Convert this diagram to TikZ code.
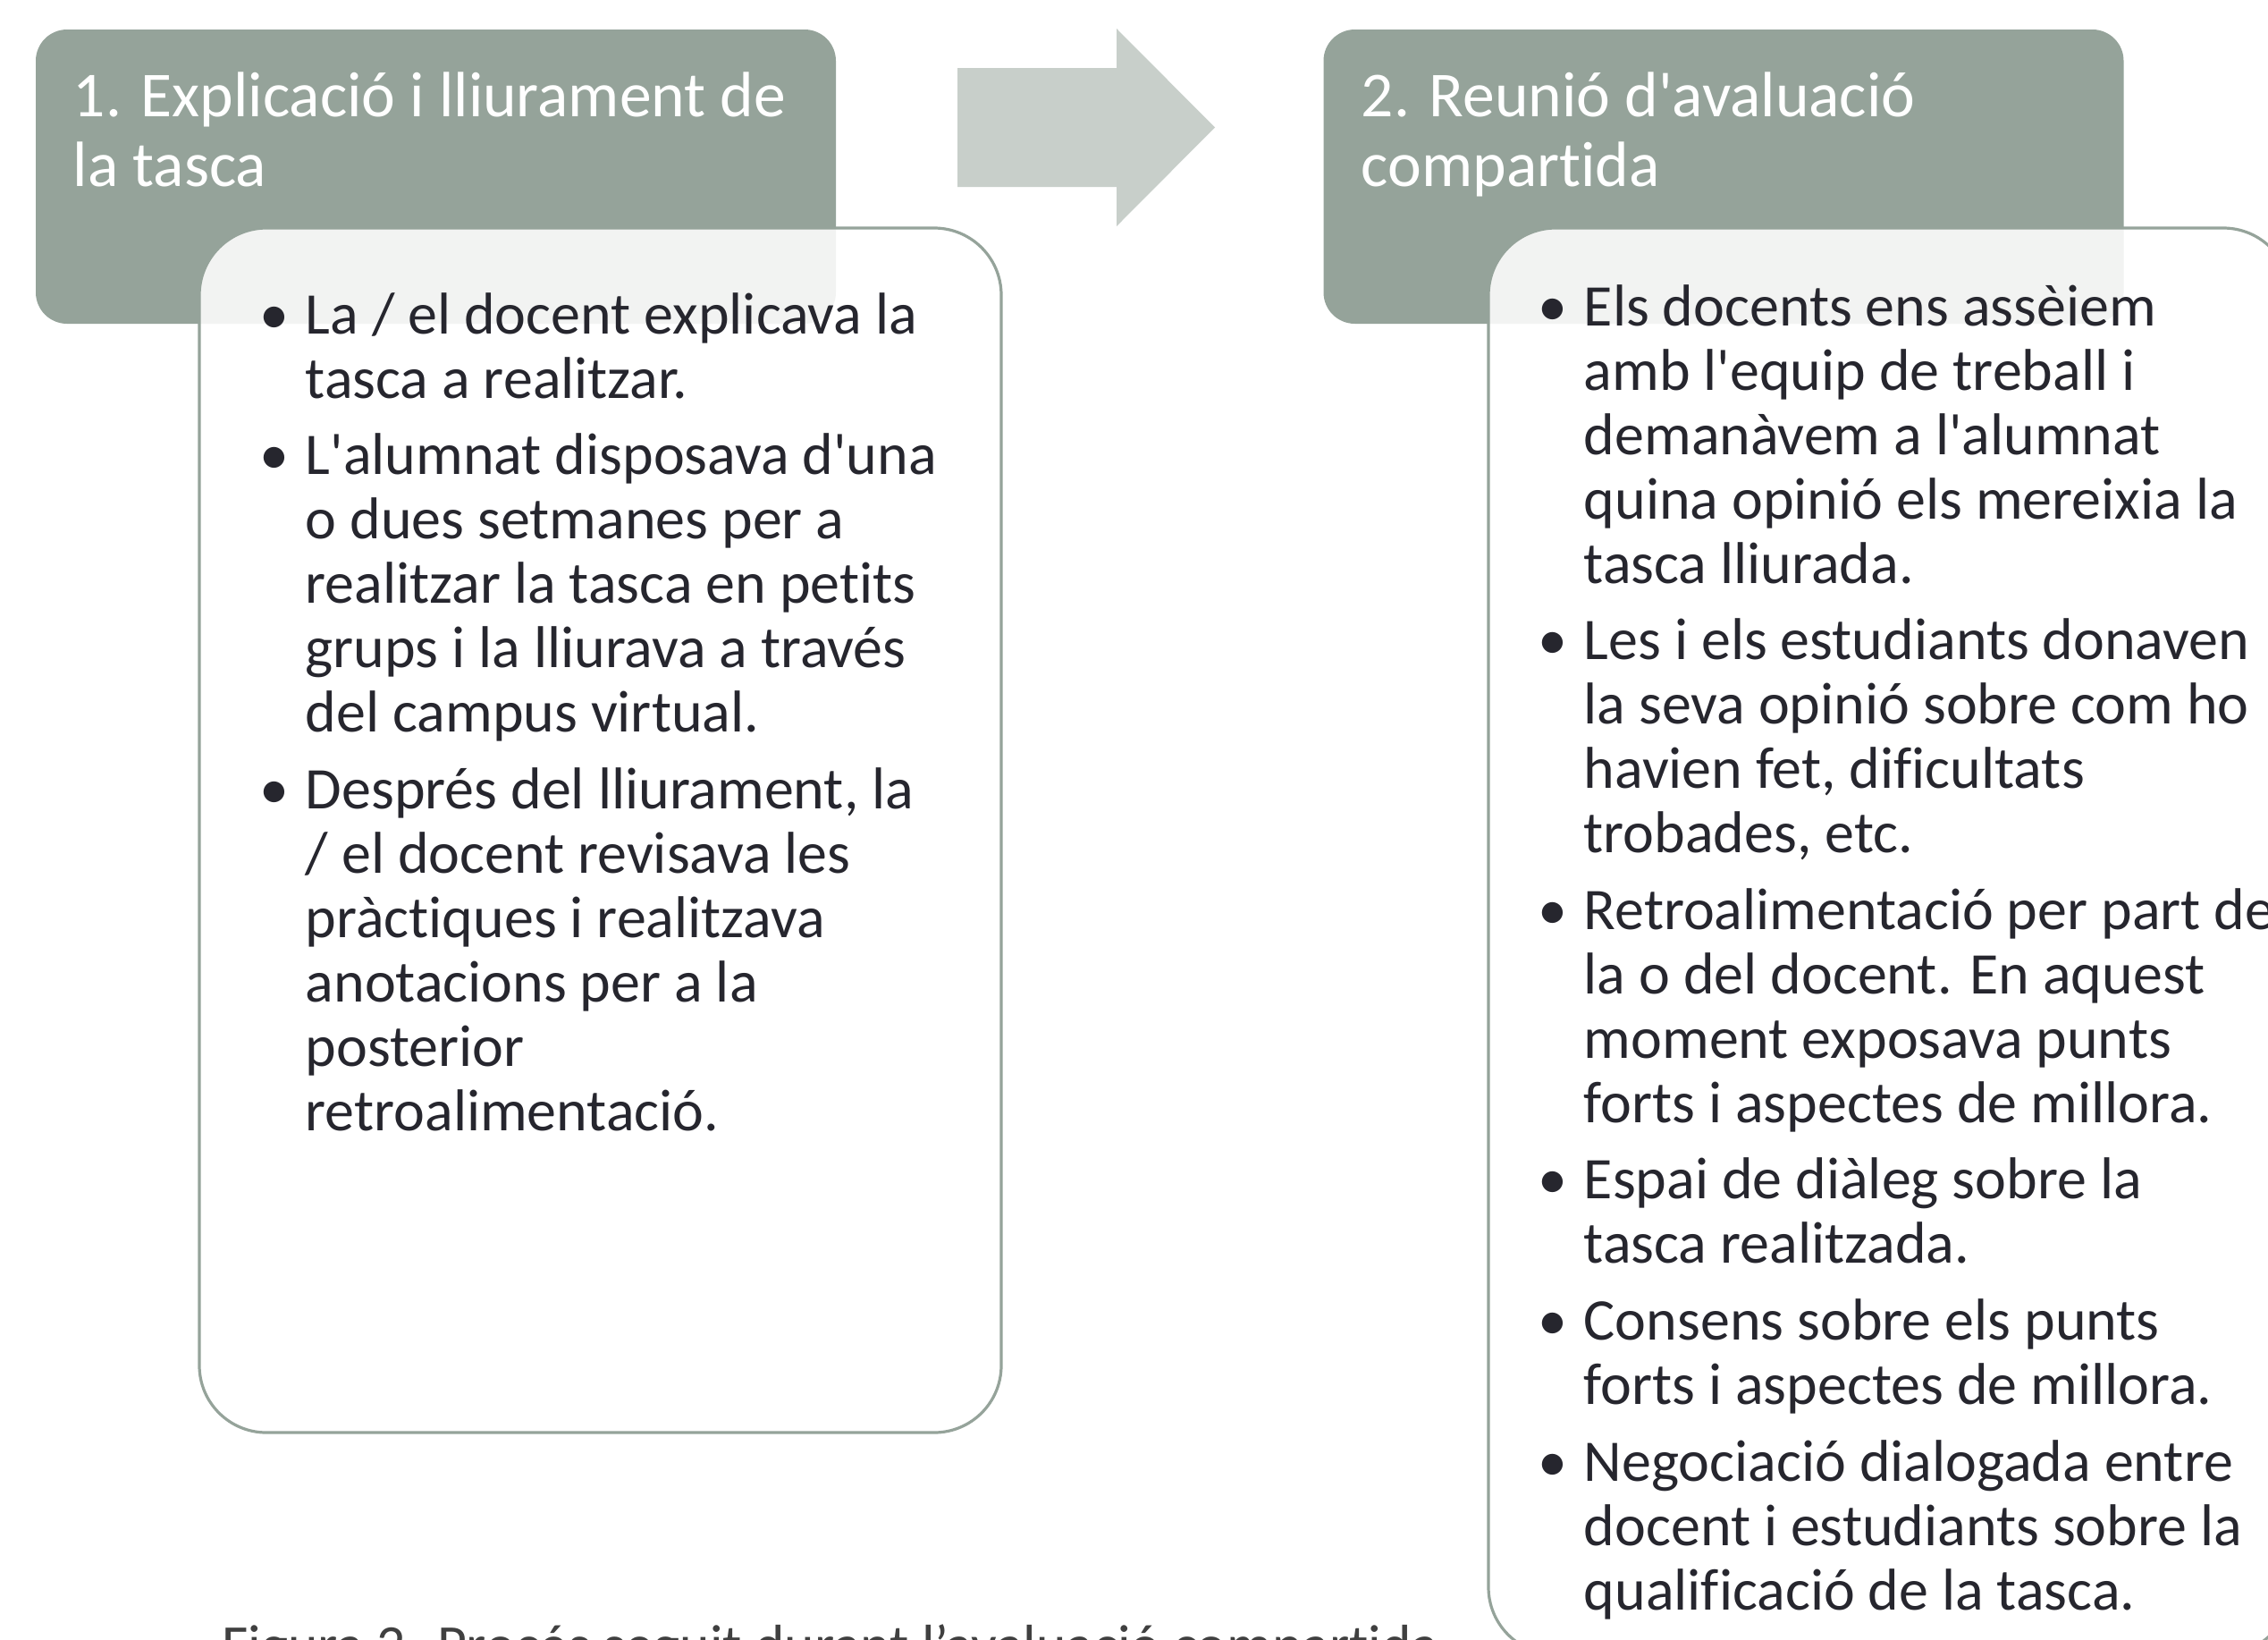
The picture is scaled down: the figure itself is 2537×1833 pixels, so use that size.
\documentclass[tikz,border=0pt]{standalone}
\usepackage{fontspec}
\setmainfont{Carlito}
\newfontfamily\cf{Carlito}[RawFeature=-liga, RawFeature=-calt, RawFeature=-clig]
\definecolor{hdrgreen}{RGB}{149,163,154}
\definecolor{arrowgrey}{RGB}{200,207,202}
\definecolor{bodytext}{RGB}{38,38,46}
\definecolor{captext}{RGB}{64,64,64}
\newcommand\bul{\llap{\makebox[0pt][c]{•}\hspace{8.75pt}}}
\begin{document}
\begin{tikzpicture}[x=0.25pt,y=-0.25pt,
  hdr/.style={fill=hdrgreen, draw=none, rounded corners=8.75pt, inner sep=0pt,
    minimum width=223.75pt, minimum height=82.25pt},
  bodybox/.style={fill=white, fill opacity=0.88, draw=hdrgreen, draw opacity=1,
    line width=0.8pt, rounded corners=18.75pt, inner sep=0pt, minimum width=224.25pt},
  hdrtext/.style={anchor=base west, inner sep=0pt, text=white,
    font=\cf\fontsize{17.9pt}{19.5pt}\selectfont},
  bodytxt/.style={anchor=base west, inner sep=0pt, text=bodytext,
    font=\cf\fontsize{16.5pt}{18pt}\selectfont},
  captxt/.style={anchor=base west, inner sep=0pt, text=captext,
    font=\cf\fontsize{15.9pt}{18pt}\selectfont}
]
\useasboundingbox (0,0) rectangle (2537,1833);
\clip (0,0) rectangle (2537,1833);
\fill[white] (0,0) rectangle (2537,1833);

% headers
\node[hdr] (h1) at (487.5,197.5) {};
\node[hdr] (h2) at (1928,197.5) {};

% arrow
\coordinate (a1) at (1071,76);
\coordinate (a2) at (1249,76);
\coordinate (a3) at (1249,32);
\coordinate (tip) at (1359,142.5);
\coordinate (a5) at (1249,253);
\coordinate (a6) at (1249,209);
\coordinate (a7) at (1071,209);
\fill[arrowgrey] (a1) -- (a2) -- (a3) -- (tip) -- (a5) -- (a6) -- (a7) -- cycle;

% bodies
\node[bodybox, minimum height=336.75pt] (b1) at (671.5,928.5) {};
\node[bodybox, minimum height=398.75pt] (b2) at (2113.5,1052.5) {};

% header texts
\node[hdrtext] (h1t) at (81,130) {\begin{tabular}[t]{@{}l@{}}1. Explicació i lliurament de\\la tasca\end{tabular}};
\node[hdrtext] (h2t) at (1522,130) {\begin{tabular}[t]{@{}l@{}}2. Reunió d'avaluació\\compartida\end{tabular}};

% body texts
\node[bodytxt] (b1t) at (341,373) {\begin{tabular}[t]{@{}l@{}}
\bul La / el docent explicava la\\
tasca a realitzar.\\[3.4pt]
\bul L'alumnat disposava d'una\\
o dues setmanes per a\\
realitzar la tasca en petits\\
grups i la lliurava a través\\
del campus virtual.\\[3.4pt]
\bul Després del lliurament, la\\
/ el docent revisava les\\
pràctiques i realitzava\\
anotacions per a la\\
posterior\\
retroalimentació.
\end{tabular}};

\node[bodytxt] (b2t) at (1771,364) {\begin{tabular}[t]{@{}l@{}}
\bul Els docents ens assèiem\\
amb l'equip de treball i\\
demanàvem a l'alumnat\\
quina opinió els mereixia la\\
tasca lliurada.\\[3.4pt]
\bul Les i els estudiants donaven\\
la seva opinió sobre com ho\\
havien fet, dificultats\\
trobades, etc.\\[3.4pt]
\bul Retroalimentació per part de\\
la o del docent. En aquest\\
moment exposava punts\\
forts i aspectes de millora.\\[3.4pt]
\bul Espai de diàleg sobre la\\
tasca realitzada.\\[3.4pt]
\bul Consens sobre els punts\\
forts i aspectes de millora.\\[3.4pt]
\bul Negociació dialogada entre\\
docent i estudiants sobre la\\
qualificació de la tasca.
\end{tabular}};

% caption (cut at the bottom edge)
\node[captxt] (cap) at (248,1861) {Figura 2. Procés seguit durant l’avaluació compartida};
\end{tikzpicture}
\end{document}
